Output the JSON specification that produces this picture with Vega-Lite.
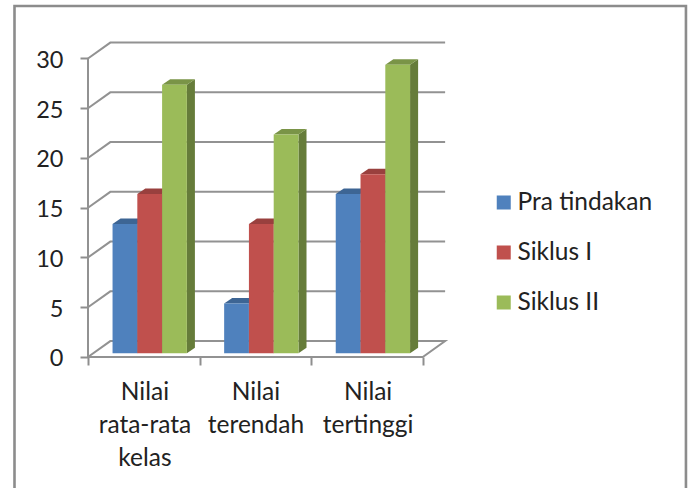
{
"$schema":"https://vega.github.io/schema/vega-lite/v6.json",
"width":692,"height":488,"padding":0,"autosize":{"type":"none"},"background":"white",
"config":{"view":{"stroke":null},"text":{"lineBreak":"\n"}},
"datasets":{
"frame":[{"o":1,"x":-0.6586,"y":-13.166},{"o":2,"x":-0.6586,"y":35.28},{"o":3,"x":5.358,"y":35.28},{"o":4,"x":5.358,"y":-13.166}],
"grid":[
{"l":"0","o":1,"x":0,"y":0},{"l":"0","o":2,"x":0.2,"y":1.6},{"l":"0","o":3,"x":3.2,"y":1.6},{"l":"0","o":4,"x":3,"y":0},{"l":"0","o":5,"x":0,"y":0},
{"l":"5","o":1,"x":0,"y":5},{"l":"5","o":2,"x":0.2,"y":6.6},{"l":"5","o":3,"x":3.2,"y":6.6},
{"l":"10","o":1,"x":0,"y":10},{"l":"10","o":2,"x":0.2,"y":11.6},{"l":"10","o":3,"x":3.2,"y":11.6},
{"l":"15","o":1,"x":0,"y":15},{"l":"15","o":2,"x":0.2,"y":16.6},{"l":"15","o":3,"x":3.2,"y":16.6},
{"l":"20","o":1,"x":0,"y":20},{"l":"20","o":2,"x":0.2,"y":21.6},{"l":"20","o":3,"x":3.2,"y":21.6},
{"l":"25","o":1,"x":0,"y":25},{"l":"25","o":2,"x":0.2,"y":26.6},{"l":"25","o":3,"x":3.2,"y":26.6},
{"l":"30","o":1,"x":0,"y":30},{"l":"30","o":2,"x":0.2,"y":31.6},{"l":"30","o":3,"x":3.2,"y":31.6},
{"l":"axis","o":1,"x":0,"y":0},{"l":"axis","o":2,"x":0,"y":30}],
"bars":[
{"category":"Nilai rata-rata kelas","series":"Pra tindakan","x":0.22,"x2":0.442,"y":13},
{"category":"Nilai rata-rata kelas","series":"Siklus I","x":0.442,"x2":0.664,"y":16},
{"category":"Nilai rata-rata kelas","series":"Siklus II","x":0.664,"x2":0.886,"y":27},
{"category":"Nilai terendah","series":"Pra tindakan","x":1.22,"x2":1.442,"y":5},
{"category":"Nilai terendah","series":"Siklus I","x":1.442,"x2":1.664,"y":13},
{"category":"Nilai terendah","series":"Siklus II","x":1.664,"x2":1.886,"y":22},
{"category":"Nilai tertinggi","series":"Pra tindakan","x":2.22,"x2":2.442,"y":16},
{"category":"Nilai tertinggi","series":"Siklus I","x":2.442,"x2":2.664,"y":18},
{"category":"Nilai tertinggi","series":"Siklus II","x":2.664,"x2":2.886,"y":29}],
"sides":[
{"b":"a1","series":"Pra tindakan","x":0.442,"y":13,"y2":0},{"b":"a1","series":"Pra tindakan","x":0.514,"y":13.55,"y2":0.55},
{"b":"a2","series":"Siklus I","x":0.664,"y":16,"y2":0},{"b":"a2","series":"Siklus I","x":0.736,"y":16.55,"y2":0.55},
{"b":"a3","series":"Siklus II","x":0.886,"y":27,"y2":0},{"b":"a3","series":"Siklus II","x":0.958,"y":27.55,"y2":0.55},
{"b":"b1","series":"Pra tindakan","x":1.442,"y":5,"y2":0},{"b":"b1","series":"Pra tindakan","x":1.514,"y":5.55,"y2":0.55},
{"b":"b2","series":"Siklus I","x":1.664,"y":13,"y2":0},{"b":"b2","series":"Siklus I","x":1.736,"y":13.55,"y2":0.55},
{"b":"b3","series":"Siklus II","x":1.886,"y":22,"y2":0},{"b":"b3","series":"Siklus II","x":1.958,"y":22.55,"y2":0.55},
{"b":"c1","series":"Pra tindakan","x":2.442,"y":16,"y2":0},{"b":"c1","series":"Pra tindakan","x":2.514,"y":16.55,"y2":0.55},
{"b":"c2","series":"Siklus I","x":2.664,"y":18,"y2":0},{"b":"c2","series":"Siklus I","x":2.736,"y":18.55,"y2":0.55},
{"b":"c3","series":"Siklus II","x":2.886,"y":29,"y2":0},{"b":"c3","series":"Siklus II","x":2.958,"y":29.55,"y2":0.55}],
"tops":[
{"b":"a1","series":"Pra tindakan","x":0.22,"y":13,"y2":13},{"b":"a1","series":"Pra tindakan","x":0.292,"y":13.55,"y2":13},{"b":"a1","series":"Pra tindakan","x":0.442,"y":13.55,"y2":13},{"b":"a1","series":"Pra tindakan","x":0.514,"y":13.55,"y2":13.55},
{"b":"a2","series":"Siklus I","x":0.442,"y":16,"y2":16},{"b":"a2","series":"Siklus I","x":0.514,"y":16.55,"y2":16},{"b":"a2","series":"Siklus I","x":0.664,"y":16.55,"y2":16},{"b":"a2","series":"Siklus I","x":0.736,"y":16.55,"y2":16.55},
{"b":"a3","series":"Siklus II","x":0.664,"y":27,"y2":27},{"b":"a3","series":"Siklus II","x":0.736,"y":27.55,"y2":27},{"b":"a3","series":"Siklus II","x":0.886,"y":27.55,"y2":27},{"b":"a3","series":"Siklus II","x":0.958,"y":27.55,"y2":27.55},
{"b":"b1","series":"Pra tindakan","x":1.22,"y":5,"y2":5},{"b":"b1","series":"Pra tindakan","x":1.292,"y":5.55,"y2":5},{"b":"b1","series":"Pra tindakan","x":1.442,"y":5.55,"y2":5},{"b":"b1","series":"Pra tindakan","x":1.514,"y":5.55,"y2":5.55},
{"b":"b2","series":"Siklus I","x":1.442,"y":13,"y2":13},{"b":"b2","series":"Siklus I","x":1.514,"y":13.55,"y2":13},{"b":"b2","series":"Siklus I","x":1.664,"y":13.55,"y2":13},{"b":"b2","series":"Siklus I","x":1.736,"y":13.55,"y2":13.55},
{"b":"b3","series":"Siklus II","x":1.664,"y":22,"y2":22},{"b":"b3","series":"Siklus II","x":1.736,"y":22.55,"y2":22},{"b":"b3","series":"Siklus II","x":1.886,"y":22.55,"y2":22},{"b":"b3","series":"Siklus II","x":1.958,"y":22.55,"y2":22.55},
{"b":"c1","series":"Pra tindakan","x":2.22,"y":16,"y2":16},{"b":"c1","series":"Pra tindakan","x":2.292,"y":16.55,"y2":16},{"b":"c1","series":"Pra tindakan","x":2.442,"y":16.55,"y2":16},{"b":"c1","series":"Pra tindakan","x":2.514,"y":16.55,"y2":16.55},
{"b":"c2","series":"Siklus I","x":2.442,"y":18,"y2":18},{"b":"c2","series":"Siklus I","x":2.514,"y":18.55,"y2":18},{"b":"c2","series":"Siklus I","x":2.664,"y":18.55,"y2":18},{"b":"c2","series":"Siklus I","x":2.736,"y":18.55,"y2":18.55},
{"b":"c3","series":"Siklus II","x":2.664,"y":29,"y2":29},{"b":"c3","series":"Siklus II","x":2.736,"y":29.55,"y2":29},{"b":"c3","series":"Siklus II","x":2.886,"y":29.55,"y2":29},{"b":"c3","series":"Siklus II","x":2.958,"y":29.55,"y2":29.55}],
"labels":[
{"label":"Nilai\nrata-rata\nkelas","x":0.51,"y":-2.45},
{"label":"Nilai\nterendah","x":1.505,"y":-2.45},
{"label":"Nilai\ntertinggi","x":2.51,"y":-2.45}]
},
"encoding":{
"x":{"field":"x","type":"quantitative","title":null,"scale":{"domain":[-0.7885,5.4122],"nice":false,"zero":false},
"axis":{"values":[0,1,2,3],"labels":false,"domain":false,"grid":false,"offset":-131,"tickSize":8,"tickWidth":2,"tickColor":"#8e8e8e"}},
"y":{"field":"y","type":"quantitative","title":null,"scale":{"domain":[-13.166,35.879],"nice":false,"zero":false},
"axis":{"values":[0,5,10,15,20,25,30],"domain":false,"grid":false,"offset":-88,"tickSize":8,"tickWidth":2,"tickColor":"#8e8e8e","labelPadding":17,"labelFont":"Lato","labelFontSize":23.5,"labelColor":"#222222","labelOffset":2}}
},
"layer":[
{"data":{"name":"frame"},"mark":{"type":"line","stroke":"#8c8c8c","strokeWidth":2.6,"clip":false},"encoding":{"order":{"field":"o"}}},
{"data":{"name":"grid"},"mark":{"type":"line","stroke":"#929292","strokeWidth":2},"encoding":{"order":{"field":"o"},"detail":{"field":"l"}}},
{"data":{"name":"sides"},"mark":{"type":"area","orient":"vertical","yOffset":-3.7,"y2Offset":-3.7},
"encoding":{"y2":{"field":"y2"},"detail":{"field":"b"},"fill":{"field":"series","type":"nominal","legend":null,"scale":{"domain":["Pra tindakan","Siklus I","Siklus II"],"range":["#34567d","#7f3533","#667c3a"]}}}},
{"data":{"name":"tops"},"mark":{"type":"area","orient":"vertical","yOffset":-3.7,"y2Offset":-3.7},
"encoding":{"y2":{"field":"y2"},"detail":{"field":"b"},"fill":{"field":"series","type":"nominal","legend":null,"scale":{"domain":["Pra tindakan","Siklus I","Siklus II"],"range":["#3d6594","#99403e","#7a9447"]}}}},
{"data":{"name":"bars"},"mark":{"type":"rect","yOffset":-3.7,"y2Offset":-3.7},
"encoding":{"x2":{"field":"x2"},"y2":{"datum":0},"fill":{"field":"series","type":"nominal","scale":{"domain":["Pra tindakan","Siklus I","Siklus II"],"range":["#4f81bd","#c0504d","#9bbb59"]},
"legend":{"title":null,"orient":"none","legendX":491.5,"legendY":191,"padding":0,"symbolType":"square","symbolSize":196,"symbolStrokeWidth":0,"labelFont":"Lato","labelFontSize":24.5,"labelColor":"#222222","labelOffset":1.5,"rowPadding":25,"clipHeight":23}}}},
{"data":{"name":"labels"},"mark":{"type":"text","font":"Lato","fontSize":24.5,"color":"#222222","align":"center","baseline":"top","lineHeight":33},"encoding":{"text":{"field":"label"}}}
],
"resolve":{"scale":{"fill":"independent"}}
}
